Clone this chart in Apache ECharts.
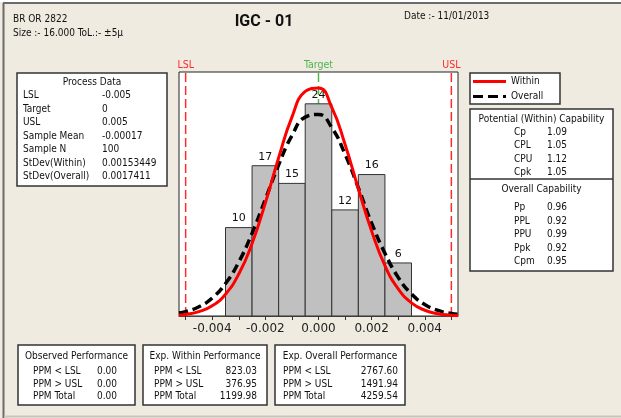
<!DOCTYPE html>
<html>
<head>
<meta charset="utf-8">
<script src="https://cdn.jsdelivr.net/npm/echarts@6/dist/echarts.min.js"></script>
<style>
  html, body { margin: 0; padding: 0; background: #EFEBE1; }
  #chart { width: 621px; height: 418px; }
</style>
</head>
<body>
<div id="chart"></div>
<script>
// histogram bins (bin centers, counts)
const binCenters = [-0.003, -0.002, -0.001, 0, 0.001, 0.002, 0.003];
const binCounts = [10, 17, 15, 24, 12, 16, 6];
const binWidth = 0.001;

// fitted curves
const curveX = [-0.00525, -0.005, -0.0045, -0.004, -0.0035, -0.003, -0.0025, -0.002, -0.0015, -0.001, -0.0005,
  0, 0.0005, 0.001, 0.0015, 0.002, 0.0025, 0.003, 0.0035, 0.004, 0.0045, 0.005, 0.00525];
const withinY = [0.11, 0.18, 0.49, 1.15, 2.47, 4.75, 8.2, 12.8, 17.9, 22.5, 25.4,
  25.8, 23.6, 19.4, 14.4, 9.6, 5.7, 3.07, 1.49, 0.65, 0.25, 0.09, 0.05];
const overallY = [0.33, 0.49, 1.04, 2.04, 3.67, 6.1, 9.36, 13.2, 17.1, 20.4, 22.5,
  22.8, 21.3, 18.3, 14.5, 10.5, 7.1, 4.37, 2.49, 1.30, 0.63, 0.28, 0.18];

// spec limits
const specNames = ['LSL', 'Target', 'USL'];
const specValues = [-0.005, 0, 0.005];
const yTop = 27.6;

// x axis ticks / labels
const xTickValues = [-0.005, -0.004, -0.003, -0.002, -0.001, 0, 0.001, 0.002, 0.003, 0.004, 0.005];
const xLabelValues = [-0.004, -0.002, 0, 0.002, 0.004];

// header texts
const titleText = 'IGC - 01';
const partText = 'BR OR 2822';
const sizeText = 'Size :- 16.000 ToL.:- \u00b15\u03bc';
const dateText = 'Date :- 11/01/2013';

// side tables
const processLabels = ['LSL', 'Target', 'USL', 'Sample Mean', 'Sample N', 'StDev(Within)', 'StDev(Overall)'];
const processValues = ['-0.005', '0', '0.005', '-0.00017', '100', '0.00153449', '0.0017411'];
const withinCapLabels = ['Cp', 'CPL', 'CPU', 'Cpk'];
const withinCapValues = ['1.09', '1.05', '1.12', '1.05'];
const overallCapLabels = ['Pp', 'PPL', 'PPU', 'Ppk', 'Cpm'];
const overallCapValues = ['0.96', '0.92', '0.99', '0.92', '0.95'];
const perfRowLabels = ['PPM < LSL', 'PPM > USL', 'PPM Total'];
const perfTitles = ['Observed Performance', 'Exp. Within Performance', 'Exp. Overall Performance'];
const observedPPM = ['0.00', '0.00', '0.00'];
const expWithinPPM = ['823.03', '376.95', '1199.98'];
const expOverallPPM = ['2767.60', '1491.94', '4259.54'];
const legendNames = ['Within', 'Overall'];

const FONT = "'DejaVu Sans Condensed', 'Liberation Sans', sans-serif";
const small = '10px ' + FONT;

const chart = echarts.init(document.getElementById('chart'));

function txt(x, y, text, font, align, fill) {
  return { type: 'text', x: x, y: y, z: 10,
    style: { text: text, font: font || small, fill: fill || '#111', align: align || 'left', verticalAlign: 'middle' } };
}
function box(x, y, w, h) {
  return { type: 'rect', z: 5, shape: { x: x, y: y, width: w, height: h },
    style: { fill: '#fff', stroke: '#333', lineWidth: 1.5 } };
}

const graphic = [];
// outer frame
graphic.push({ type: 'rect', z: 1, shape: { x: 0, y: 0, width: 621, height: 2 }, style: { fill: '#fff' } });
graphic.push({ type: 'line', z: 2, shape: { x1: 3, y1: 3, x2: 621, y2: 3 }, style: { stroke: '#6b6b6b', lineWidth: 2 } });
graphic.push({ type: 'line', z: 2, shape: { x1: 3.5, y1: 3, x2: 3.5, y2: 418 }, style: { stroke: '#6b6b6b', lineWidth: 2 } });
graphic.push({ type: 'line', z: 2, shape: { x1: 4, y1: 416.5, x2: 621, y2: 416.5 }, style: { stroke: '#c9c5bc', lineWidth: 2 } });

// header
graphic.push(txt(13, 19, partText));
graphic.push(txt(13, 33, sizeText));
graphic.push(txt(404, 16, dateText));
graphic.push(txt(264, 22, titleText, "bold 16px Roboto, 'Liberation Sans', sans-serif", 'center'));

// legend
graphic.push(box(470, 73, 90, 31));
graphic.push({ type: 'line', z: 6, shape: { x1: 473, y1: 81.5, x2: 506, y2: 81.5 }, style: { stroke: '#ff0000', lineWidth: 3 } });
graphic.push({ type: 'line', z: 6, shape: { x1: 473, y1: 96.5, x2: 506, y2: 96.5 }, style: { stroke: '#000', lineWidth: 3, lineDash: [10, 5] } });
graphic.push(txt(511, 81.5, legendNames[0]));
graphic.push(txt(511, 96.5, legendNames[1]));

// process data
graphic.push(box(17, 73, 150, 113));
graphic.push(txt(92, 82, 'Process Data', small, 'center'));
processLabels.forEach(function (l, i) {
  graphic.push(txt(23, 95.5 + i * 13.5, l));
  graphic.push(txt(102, 95.5 + i * 13.5, processValues[i]));
});

// capability
graphic.push(box(470, 109, 143, 162));
graphic.push({ type: 'line', z: 6, shape: { x1: 470, y1: 179, x2: 613, y2: 179 }, style: { stroke: '#333', lineWidth: 1.5 } });
graphic.push(txt(541.5, 119.5, 'Potential (Within) Capability', small, 'center'));
withinCapLabels.forEach(function (l, i) {
  graphic.push(txt(514, 132.5 + i * 13.4, l));
  graphic.push(txt(547, 132.5 + i * 13.4, withinCapValues[i]));
});
graphic.push(txt(541.5, 189.5, 'Overall Capability', small, 'center'));
overallCapLabels.forEach(function (l, i) {
  graphic.push(txt(514, 207.5 + i * 13.6, l));
  graphic.push(txt(547, 207.5 + i * 13.6, overallCapValues[i]));
});

// performance boxes
const perfBoxes = [
  { x: 18, w: 117, lx: 33, vx: 117, vals: observedPPM },
  { x: 143, w: 124, lx: 154, vx: 257, vals: expWithinPPM },
  { x: 275, w: 130, lx: 283, vx: 398, vals: expOverallPPM }
];
perfBoxes.forEach(function (b, k) {
  graphic.push(box(b.x, 345, b.w, 60));
  graphic.push(txt(b.x + b.w / 2, 356, perfTitles[k], small, 'center'));
  perfRowLabels.forEach(function (l, i) {
    graphic.push(txt(b.lx, 371.5 + i * 12.6, l));
    graphic.push(txt(b.vx, 371.5 + i * 12.6, b.vals[i], small, 'right'));
  });
});

const specColors = ['#ff2a2a', '#4cb84c', '#ff2a2a'];

const specSeries = specValues.map(function (v, i) {
  return {
    name: specNames[i], type: 'line', z: 1, silent: true,
    symbol: 'circle', symbolSize: 1, showSymbol: true,
    itemStyle: { color: 'rgba(0,0,0,0)' },
    lineStyle: { color: specColors[i], type: [9, 4], width: 1.5 },
    data: [
      [v, 0],
      { value: [v, yTop], label: { show: true, position: 'top', distance: 1, formatter: specNames[i],
        color: specColors[i], fontFamily: FONT, fontSize: 10.5 } }
    ]
  };
});

chart.setOption({
  animation: false,
  backgroundColor: '#EFEBE1',
  grid: { left: 179, top: 72, width: 279, height: 244, show: true,
    backgroundColor: '#fff', borderColor: '#222', borderWidth: 1 },
  xAxis: {
    type: 'value', min: -0.00525, max: 0.00525,
    axisLine: { show: true, onZero: false, lineStyle: { color: '#444' } },
    axisTick: { show: true, length: 4, customValues: xTickValues, lineStyle: { color: '#333' } },
    axisLabel: { customValues: xLabelValues, formatter: function (v) { return v.toFixed(3); },
      fontFamily: 'DejaVu Sans', fontSize: 12, color: '#222', margin: 7 },
    splitLine: { show: false }
  },
  yAxis: { type: 'value', min: 0, max: yTop, show: false, splitLine: { show: false } },
  graphic: graphic,
  series: specSeries.concat([
    {
      name: 'hist', type: 'custom', z: 2,
      data: binCenters.map(function (c, i) { return [c, binCounts[i]]; }),
      renderItem: function (params, api) {
        const c = api.value(0), n = api.value(1);
        const p0 = api.coord([c - binWidth / 2, n]);
        const p1 = api.coord([c + binWidth / 2, 0]);
        return {
          type: 'rect',
          shape: { x: p0[0], y: p0[1], width: p1[0] - p0[0], height: p1[1] - p0[1] },
          style: { fill: '#c0c0c0', stroke: '#333', lineWidth: 1 },
          textContent: { style: { text: String(n), font: '11px DejaVu Sans', fill: '#111' } },
          textConfig: { position: 'top', distance: 3 }
        };
      }
    },
    {
      name: 'Overall', type: 'line', z: 3, smooth: true, symbol: 'none',
      data: curveX.map(function (x, i) { return [x, overallY[i]]; }),
      lineStyle: { color: '#000', width: 3.5, type: [9, 5] }
    },
    {
      name: 'Within', type: 'line', z: 4, smooth: true, symbol: 'none',
      data: curveX.map(function (x, i) { return [x, withinY[i]]; }),
      lineStyle: { color: '#ff0000', width: 3 }
    }
  ])
});
</script>
</body>
</html>
